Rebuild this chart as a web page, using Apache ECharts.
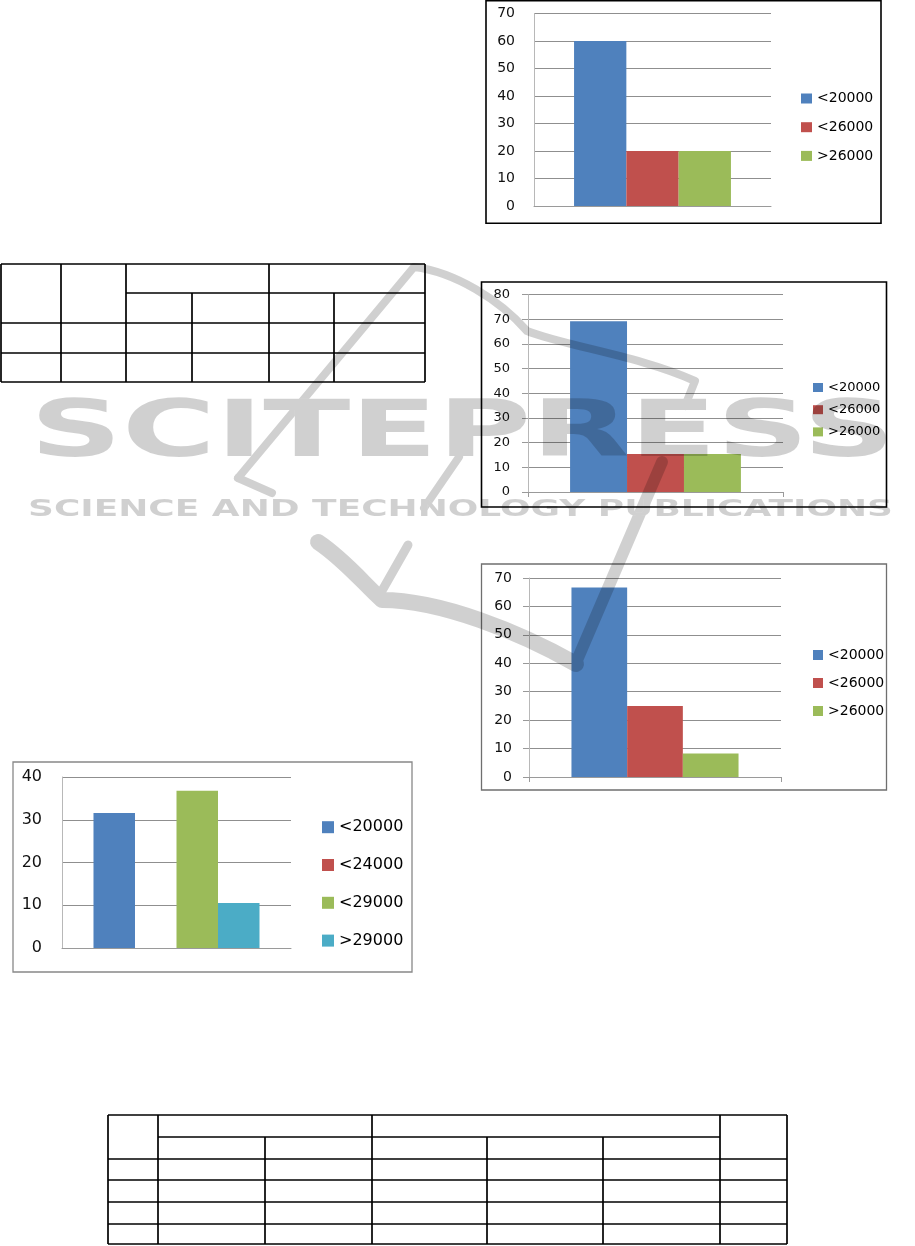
<!DOCTYPE html>
<html>
<head>
<meta charset="utf-8">
<style>
html,body{margin:0;padding:0;background:#fff;}
#c{width:915px;height:1246px;}
</style>
<script src="https://cdn.jsdelivr.net/npm/echarts@6/dist/echarts.min.js"></script>
</head>
<body>
<div id="c"></div>
<script>
// ---------------- data ----------------
const categories = [''];
const names3 = ['<20000', '<26000', '>26000'];
const names4 = ['<20000', '<24000', '<29000', '>29000'];
const valuesChart1 = [60, 20, 20];
const valuesChart2 = [69.2, 15.4, 15.4];
const valuesChart3 = [66.7, 25, 8.3];
const valuesChart4 = [31.6, 0, 36.8, 10.5];
const yTicks1 = [0, 10, 20, 30, 40, 50, 60, 70];
const yTicks2 = [0, 10, 20, 30, 40, 50, 60, 70, 80];
const yTicks3 = [0, 10, 20, 30, 40, 50, 60, 70];
const yTicks4 = [0, 10, 20, 30, 40];
const colors3 = ['#4F81BD', '#C0504D', '#9BBB59'];
const colors4 = ['#4F81BD', '#C0504D', '#9BBB59', '#4BACC6'];
const watermarkBig = 'SCITEPRESS';
const watermarkSmall = 'SCIENCE AND TECHNOLOGY PUBLICATIONS';

// ---------------- layout ----------------
const W = 915, H = 1246;
const FONT = '"DejaVu Sans", Verdana, sans-serif';
const charts = [
  {names: names3, values: valuesChart1, colors: colors3, ticks: yTicks1,
   grid: {left: 534, top: 13.5, width: 237, height: 192.5}, gap: '33.8%',
   labelSize: 14, labelMargin: 19, yTick: false, xTick: false,
   legend: {left: 801, top: 91.5, iw: 11, ih: 10, gap: 14.7, fs: 14},
   frame: {x: 486, y: 0.8, w: 395, h: 222.5, c: '#000', lw: 1.6}},
  {names: names3, values: valuesChart2, colors: colors3, ticks: yTicks2,
   grid: {left: 528, top: 294.7, width: 255, height: 197.3}, gap: '33%',
   labelSize: 13, labelMargin: 18, yTick: true, xTick: true,
   legend: {left: 813, top: 381, iw: 10, ih: 9, gap: 9.2, fs: 13},
   frame: {x: 481.5, y: 282, w: 405, h: 225, c: '#000', lw: 1.6}},
  {names: names3, values: valuesChart3, colors: colors3, ticks: yTicks3,
   grid: {left: 529, top: 578, width: 252, height: 199}, gap: '33.7%',
   labelSize: 14, labelMargin: 17, yTick: true, xTick: true,
   legend: {left: 813, top: 648, iw: 10, ih: 10, gap: 14, fs: 14},
   frame: {x: 481.5, y: 564, w: 405, h: 226, c: '#6f6f6f', lw: 1.3}},
  {names: names4, values: valuesChart4, colors: colors4, ticks: yTicks4,
   grid: {left: 62, top: 777, width: 229, height: 171}, gap: '27.5%',
   labelSize: 16, labelMargin: 20, yTick: false, xTick: false,
   legend: {left: 322, top: 819.2, iw: 12, ih: 12, gap: 21.8, fs: 16},
   frame: {x: 13, y: 762, w: 399, h: 210, c: '#888', lw: 1.3}}
];

const grid = [], xAxis = [], yAxis = [], series = [], legend = [];
charts.forEach((ch, i) => {
  grid.push(Object.assign({containLabel: false, outerBoundsMode: 'none'}, ch.grid));
  xAxis.push({
    type: 'category', gridIndex: i, data: categories,
    axisLine: {show: true, lineStyle: {color: '#9a9a9a', width: 1}},
    axisTick: {show: ch.xTick, length: 5, lineStyle: {color: '#9a9a9a'}},
    axisLabel: {show: false}, splitLine: {show: false}
  });
  yAxis.push({
    type: 'value', gridIndex: i,
    min: ch.ticks[0], max: ch.ticks[ch.ticks.length - 1],
    interval: ch.ticks[1] - ch.ticks[0],
    axisLine: {show: true, lineStyle: {color: '#b8b8b8', width: 1}},
    axisTick: {show: ch.yTick, length: 6, lineStyle: {color: '#999'}},
    axisLabel: {show: true, margin: ch.labelMargin, color: '#111',
                fontSize: ch.labelSize, fontFamily: FONT},
    splitLine: {show: true, lineStyle: {color: '#8f8f8f', width: 1}}
  });
  ch.names.forEach((n, j) => {
    series.push({
      type: 'bar', name: n, xAxisIndex: i, yAxisIndex: i,
      data: [ch.values[j]], itemStyle: {color: ch.colors[j]},
      barGap: '0%', barCategoryGap: ch.gap, animation: false,
      emphasis: {disabled: true}
    });
  });
  legend.push({
    orient: 'vertical', left: ch.legend.left, top: ch.legend.top,
    itemWidth: ch.legend.iw, itemHeight: ch.legend.ih, itemGap: ch.legend.gap,
    icon: 'rect', selectedMode: false, padding: 0, data: ch.names.slice(),
    textStyle: {fontSize: ch.legend.fs, lineHeight: ch.legend.fs, color: '#000', fontFamily: FONT}
  });
});

// ---------------- decoration: frames, tables ----------------
const graphics = [];
charts.forEach(ch => {
  const f = ch.frame;
  graphics.push({type: 'rect', shape: {x: f.x, y: f.y, width: f.w, height: f.h},
    style: {fill: 'none', stroke: f.c, lineWidth: f.lw}, z: 40, silent: true});
});
function line(x1, y1, x2, y2) {
  graphics.push({type: 'line', shape: {x1, y1, x2, y2},
    style: {stroke: '#000', lineWidth: 1.7}, z: 40, silent: true});
}
// table 1
[[264, 1, 425], [293, 126, 425], [323, 1, 425], [353, 1, 425], [382, 1, 425]]
  .forEach(r => line(r[1], r[0], r[2], r[0]));
[[1, 264], [61, 264], [126, 264], [192, 293], [269, 264], [334, 293], [425, 264]]
  .forEach(c => line(c[0], c[1], c[0], 382));
// table 2
[[1115, 108, 787], [1137, 158, 720], [1159, 108, 787], [1180, 108, 787],
 [1202, 108, 787], [1224, 108, 787], [1244, 108, 787]]
  .forEach(r => line(r[1], r[0], r[2], r[0]));
[[108, 1115], [158, 1115], [265, 1137], [372, 1115], [487, 1137], [603, 1137],
 [720, 1115], [787, 1115]]
  .forEach(c => line(c[0], c[1], c[0], 1244));

// ---------------- watermark ----------------
const wmTexts = [
  {text: watermarkBig, font: 'bold 78px "DejaVu Sans"', x: 30, y: 436, w: 865},
  {text: watermarkSmall, font: 'bold 23px "DejaVu Sans"', x: 28, y: 510.5, w: 865}
];
const mc = document.createElement('canvas').getContext('2d');
wmTexts.forEach(t => { mc.font = t.font; t.sx = t.w / mc.measureText(t.text).width; });

function buildSwoosh() {
  const cv = document.createElement('canvas');
  cv.width = W; cv.height = H;
  const ctx = cv.getContext('2d');
  ctx.strokeStyle = '#000'; ctx.lineCap = 'round'; ctx.lineJoin = 'round';
  const paths = [
    ['M238 478 L414 267 C455 272 500 300 527 331 C565 346 640 356 695 381 L685 406', 8],
    ['M238 478 L272 493', 8],
    ['M459 457 L424 508', 8],
    ['M408 545 L379 596', 9],
    ['M318 542 C345 560 365 585 382 600 C440 600 520 632 576 664', 16],
    ['M575 665 L662 462', 12]
  ];
  paths.forEach(p => { ctx.lineWidth = p[1]; ctx.stroke(new Path2D(p[0])); });
  ctx.globalCompositeOperation = 'destination-out';
  wmTexts.forEach(t => {
    ctx.save(); ctx.translate(t.x, t.y); ctx.scale(t.sx, 1);
    ctx.font = t.font; ctx.textBaseline = 'middle'; ctx.textAlign = 'left';
    ctx.fillStyle = '#000'; ctx.fillText(t.text, 0, 0); ctx.restore();
  });
  return cv;
}
graphics.push({type: 'image', x: 0, y: 0, z: 100, silent: true,
  style: {image: buildSwoosh(), width: W, height: H, opacity: 0.18}});
wmTexts.forEach(t => {
  graphics.push({type: 'text', x: t.x, y: t.y, scaleX: t.sx, scaleY: 1, z: 100, silent: true,
    style: {text: t.text, font: t.font, fill: 'rgba(0,0,0,0.185)',
            align: 'left', verticalAlign: 'middle', textAlign: 'left', textVerticalAlign: 'middle'}});
});

const chart = echarts.init(document.getElementById('c'), null, {renderer: 'canvas', width: W, height: H});
chart.setOption({
  backgroundColor: '#fff',
  animation: false,
  textStyle: {fontFamily: FONT},
  grid, xAxis, yAxis, series, legend,
  graphic: {elements: graphics}
});
</script>
</body>
</html>
